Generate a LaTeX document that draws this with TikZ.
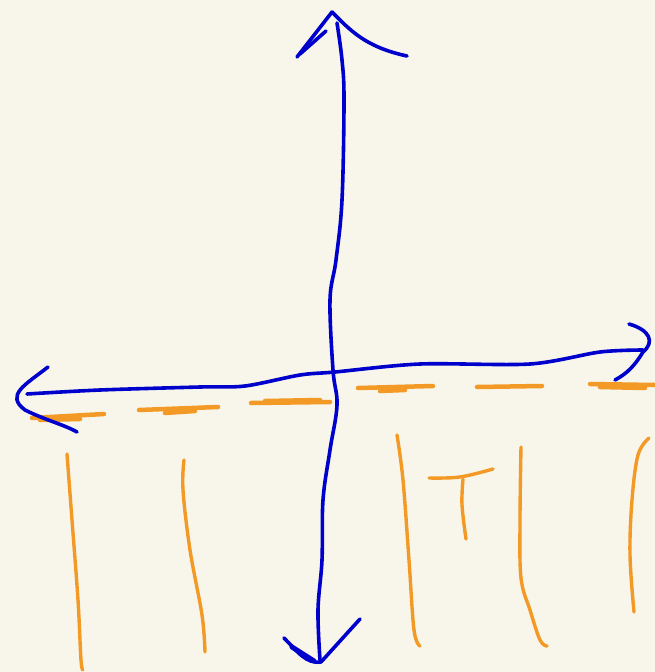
\documentclass[tikz,border=0pt]{standalone}
\definecolor{paper}{HTML}{F8F6EA}
\definecolor{ink}{HTML}{0000CC}
\definecolor{amber}{HTML}{F39A26}
\tikzset{
  axisline/.style={draw=ink, line width=3.6pt, line cap=round, line join=round},
  tickline/.style={draw=amber, line width=3.4pt, line cap=round, line join=round},
  dashline/.style={draw=amber, line width=4.5pt, line cap=round, line join=round}
}
\begin{document}
\begin{tikzpicture}[x=1pt,y=-1pt]
\fill[paper] (0,0) rectangle (655,672);
\useasboundingbox (0,0) rectangle (655,672);
% orange dashed line
\draw[dashline] (32,418) -- (104,414);
\draw[dashline] (40,420) -- (80,419);
\draw[dashline] (139,410) -- (218,407);
\draw[dashline] (165,413) -- (195,411);
\draw[dashline] (251,403) -- (330,402);
\draw[dashline] (265,401) -- (320,400);
\draw[dashline] (358,388) -- (433,386);
\draw[dashline] (380,391) -- (405,390);
\draw[dashline] (477,387) -- (542,386);
\draw[dashline] (590,384) -- (655,385);
\draw[dashline] (600,387) -- (645,388);
% orange strokes below
\draw[tickline] plot[smooth, tension=0.6] coordinates {(67,454) (72,520) (78,600) (81,660) (83,670)};
\draw[tickline] plot[smooth, tension=0.6] coordinates {(184,460) (183,490) (190,550) (202,615) (205,652)};
\draw[tickline] plot[smooth, tension=0.6] coordinates {(397,435) (403,480) (409,560) (414,630) (420,646)};
\draw[tickline] plot[smooth, tension=0.6] coordinates {(429,478) (460,477) (493,469)};
\draw[tickline] plot[smooth, tension=0.6] coordinates {(463,479) (462,505) (466,539)};
\draw[tickline] plot[smooth, tension=0.6] coordinates {(521,447) (520,520) (521,578) (530,610) (540,640) (547,646)};
\draw[tickline] plot[smooth, tension=0.6] coordinates {(649,438) (638,455) (632,500) (630,555) (634,612)};
% vertical axis
\draw[axisline] plot[smooth, tension=0.6] coordinates {(337,23) (342,60) (344,100) (342,200) (336,260) (330,300) (333,370) (337,405) (330,450) (323,500) (322,560) (318,610) (320,660)};
\draw[axisline] (297,57) -- (332,12);
\draw[axisline] (300,54) -- (326,31);
\draw[axisline] (332,12) .. controls (350,30) and (365,47) .. (407,56);
\draw[axisline] (284,638) .. controls (298,652) and (306,664) .. (321,662);
\draw[axisline, line width=5pt] (292,647) -- (314,661);
\draw[axisline] (321,662) -- (360,619);
% horizontal axis
\draw[axisline] plot[smooth, tension=0.5] coordinates {(27,394) (100,390) (200,387) (245,386) (300,375) (335,372) (420,364) (530,364) (600,352) (643,350)};
\draw[axisline] (48,367) .. controls (25,385) and (5,395) .. (25,410) .. controls (45,420) and (65,425) .. (77,432);
\draw[axisline] (629,324) .. controls (650,330) and (655,342) .. (643,352) .. controls (635,365) and (628,373) .. (615,380);
\end{tikzpicture}
\end{document}
